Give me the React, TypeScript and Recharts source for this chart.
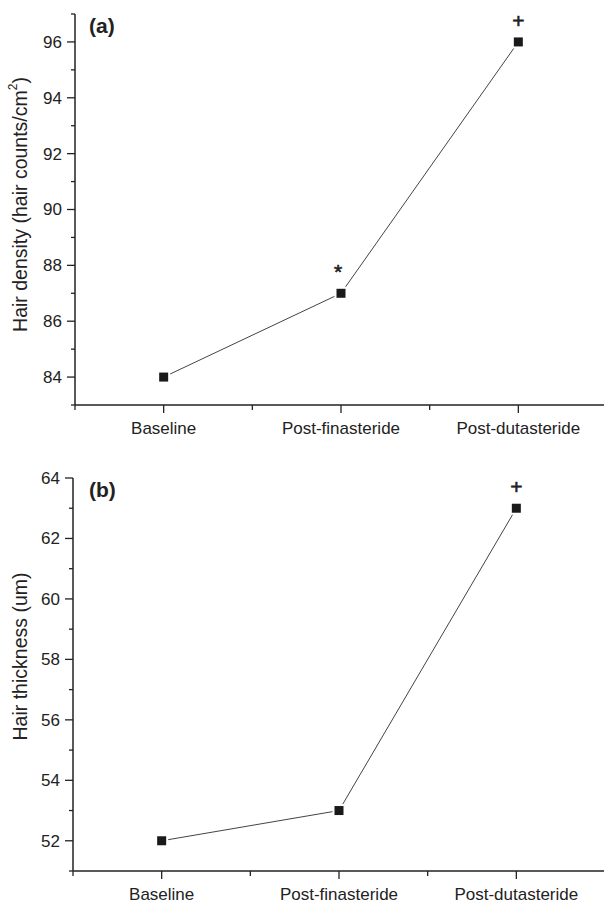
import React from "react";
import { LineChart, Line, XAxis, YAxis, LabelList } from "recharts";

const categories = ["Baseline", "Post-finasteride", "Post-dutasteride"];
const categoryPos = [1, 2, 3];
const densityValues = [84, 87, 96];
const densityMarks = ["", "*", "+"];
const thicknessValues = [52, 53, 63];
const thicknessMarks = ["", "", "+"];
const xTicks = [0.5, 1, 1.5, 2, 2.5, 3, 3.5];
const densityTicks = [83, 84, 85, 86, 87, 88, 89, 90, 91, 92, 93, 94, 95, 96, 97];
const thicknessTicks = [51, 52, 53, 54, 55, 56, 57, 58, 59, 60, 61, 62, 63, 64];

const FONT = "'Liberation Sans', Arial, sans-serif";
const AXIS = "#222";

const densityData = categories.map((c, i) => ({
  name: c,
  pos: categoryPos[i],
  value: densityValues[i],
  mark: densityMarks[i],
}));
const thicknessData = categories.map((c, i) => ({
  name: c,
  pos: categoryPos[i],
  value: thicknessValues[i],
  mark: thicknessMarks[i],
}));

const YTick = (props: any) => {
  const { x, y, payload } = props;
  const v = payload.value;
  const major = v % 2 === 0;
  return (
    <g>
      <line x1={x - (major ? 8 : 4)} x2={x} y1={y} y2={y} stroke={AXIS} strokeWidth={1.3} />
      {major && (
        <text x={x - 13} y={y} dy="0.35em" textAnchor="end" fontSize={17} fill="#222" fontFamily={FONT}>
          {v}
        </text>
      )}
    </g>
  );
};

const XTick = (props: any) => {
  const { x, y, payload } = props;
  const v = payload.value;
  const idx = categoryPos.indexOf(v);
  const major = idx >= 0;
  return (
    <g>
      <line x1={x} x2={x} y1={y} y2={y + (major ? 8 : 5)} stroke={AXIS} strokeWidth={1.3} />
      {major && (
        <text x={x} y={y + 29} textAnchor="middle" fontSize={17} fill="#222" fontFamily={FONT}>
          {categories[idx]}
        </text>
      )}
    </g>
  );
};

const renderDot = (props: any) => {
  const { cx, cy, index } = props;
  return (
    <g key={`d${index}`}>
      <rect x={cx - 6.5} y={cy - 6.5} width={13} height={13} fill="#fff" />
      <rect x={cx - 4.5} y={cy - 4.5} width={9} height={9} fill="#1a1a1a" />
    </g>
  );
};

const renderMark = (props: any) => {
  const { x, y, value } = props;
  if (!value) return null;
  return (
    <text
      x={x - (value === "*" ? 3 : 0)}
      y={y - 14}
      textAnchor="middle"
      fontSize={21}
      fill="#222"
      stroke="#222"
      strokeWidth={0.6}
      fontFamily={FONT}
    >
      {value}
    </text>
  );
};

const AxisTitle = ({ viewBox, shift, children }: any) => {
  const cy = viewBox.y + viewBox.height / 2 + shift;
  return (
    <text
      x={20}
      y={cy}
      transform={`rotate(-90 20 ${cy})`}
      textAnchor="middle"
      dominantBaseline="central"
      fontSize={19.5}
      fill="#222"
      fontFamily={FONT}
    >
      {children}
    </text>
  );
};

const Panel = ({ data, domain, ticks, width, height, yWidth, xHeight, title, titleShift, letter }: any) => (
  <div style={{ position: "relative", width, height }}>
    <LineChart width={width} height={height} data={data} margin={{ top: 14, right: 0, bottom: 0, left: 0 }}>
      <XAxis
        type="number"
        dataKey="pos"
        domain={[0.5, 3.5]}
        ticks={xTicks}
        interval={0}
        tickSize={0}
        tickMargin={0}
        tickLine={false}
        height={xHeight}
        axisLine={{ stroke: AXIS, strokeWidth: 1.5 }}
        tick={<XTick />}
      />
      <YAxis
        type="number"
        domain={domain}
        ticks={ticks}
        interval={0}
        tickSize={0}
        tickMargin={0}
        tickLine={false}
        width={yWidth}
        axisLine={{ stroke: AXIS, strokeWidth: 1.5 }}
        tick={<YTick />}
        label={{
          content: (p: any) => (
            <AxisTitle viewBox={p.viewBox} shift={titleShift}>
              {title}
            </AxisTitle>
          ),
        }}
      />
      <Line
        dataKey="value"
        stroke="#444"
        strokeWidth={1}
        dot={renderDot}
        activeDot={false}
        isAnimationActive={false}
      >
        <LabelList dataKey="mark" content={renderMark} />
      </Line>
    </LineChart>
    <div
      style={{
        position: "absolute",
        left: 89,
        top: 15,
        fontFamily: FONT,
        fontWeight: "bold",
        fontSize: 21,
        lineHeight: "22px",
        color: "#222",
      }}
    >
      {letter}
    </div>
  </div>
);

export default function App() {
  return (
    <div
      style={{
        position: "absolute",
        left: 0,
        top: 0,
        width: 604,
        height: 905,
        overflow: "hidden",
        background: "#fff",
      }}
    >
      <div style={{ position: "absolute", left: 0, top: 0 }}>
        <Panel
          data={densityData}
          domain={[83, 97]}
          ticks={densityTicks}
          width={607}
          height={455}
          yWidth={75}
          xHeight={50}
          letter="(a)"
          titleShift={-5}
          title={
            <>
              Hair density (hair counts/cm
              <tspan dy={-7} fontSize={12}>2</tspan>
              <tspan dy={7}>)</tspan>
            </>
          }
        />
      </div>
      <div style={{ position: "absolute", left: 0, top: 464 }}>
        <Panel
          data={thicknessData}
          domain={[51, 64]}
          ticks={thicknessTicks}
          width={605}
          height={441}
          yWidth={73}
          xHeight={34}
          letter="(b)"
          titleShift={-18}
          title="Hair thickness (um)"
        />
      </div>
    </div>
  );
}
